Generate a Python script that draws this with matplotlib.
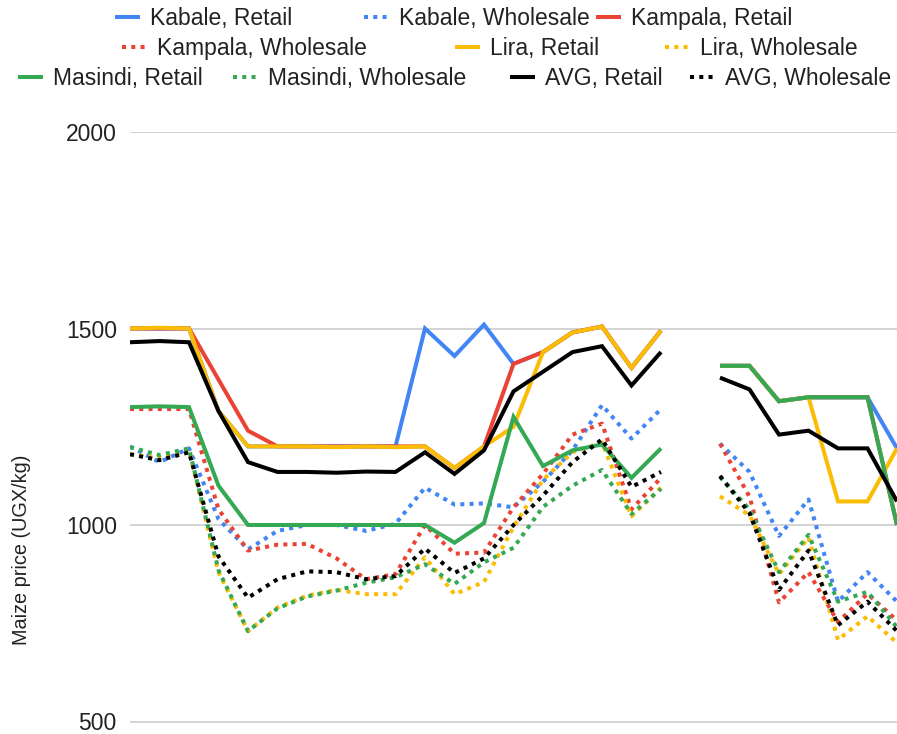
import matplotlib
matplotlib.use("Agg")
import matplotlib.pyplot as plt
import numpy as np

plt.rcParams['font.family'] = ['Liberation Sans', 'DejaVu Sans']

N = None
# 27 periods, index 19 has no data
kabale_retail = [1500, 1500, 1500, 1290, 1200, 1200, 1200, 1200, 1200, 1200, 1500, 1430, 1510, 1410, 1440, 1490, 1505, 1400, 1495, N, 1405, 1405, 1315, 1325, 1325, 1325, 1195]
kabale_wholesale = [1200, 1160, 1195, 1015, 938, 985, 1000, 1000, 985, 1003, 1095, 1052, 1055, 1045, 1110, 1190, 1305, 1220, 1295, N, 1207, 1135, 972, 1065, 805, 880, 805]
kampala_retail = [1500, 1500, 1500, 1370, 1240, 1200, 1200, 1200, 1200, 1200, 1200, 1145, 1200, 1410, 1440, 1490, 1505, 1400, 1495, N, 1405, 1405, 1315, 1325, 1325, 1325, 1000]
kampala_wholesale = [1295, 1295, 1295, 1040, 935, 950, 952, 915, 862, 875, 1000, 927, 930, 1045, 1130, 1230, 1258, 1040, 1120, N, 1207, 1072, 803, 880, 753, 825, 757]
lira_retail = [1500, 1502, 1500, 1290, 1200, 1200, 1200, 1198, 1200, 1198, 1200, 1145, 1200, 1250, 1440, 1490, 1505, 1400, 1495, N, 1405, 1405, 1315, 1325, 1060, 1060, 1195]
lira_wholesale = [1180, 1170, 1190, 880, 730, 790, 820, 835, 824, 824, 918, 824, 855, 995, 1115, 1185, 1210, 1022, 1095, N, 1073, 1025, 875, 968, 708, 768, 700]
masindi_retail = [1300, 1302, 1300, 1100, 1000, 1000, 1000, 1000, 1000, 1000, 1000, 955, 1005, 1275, 1150, 1190, 1205, 1120, 1195, N, 1405, 1405, 1315, 1325, 1325, 1325, 1000]
masindi_wholesale = [1198, 1178, 1195, 885, 730, 788, 818, 833, 853, 867, 900, 850, 905, 942, 1046, 1100, 1140, 1028, 1092, N, 1122, 1040, 880, 975, 805, 830, 740]
avg_retail = [1465, 1468, 1465, 1290, 1160, 1135, 1135, 1133, 1136, 1135, 1185, 1130, 1190, 1340, 1390, 1440, 1455, 1355, 1440, N, 1375, 1345, 1230, 1240, 1195, 1195, 1060]
avg_wholesale = [1180, 1165, 1185, 920, 815, 862, 882, 880, 862, 870, 940, 878, 915, 1000, 1075, 1160, 1218, 1097, 1135, N, 1125, 1030, 835, 935, 745, 805, 730]

series_names = ["Kabale, Retail", "Kabale, Wholesale", "Kampala, Retail", "Kampala, Wholesale",
                "Lira, Retail", "Lira, Wholesale", "Masindi, Retail", "Masindi, Wholesale",
                "AVG, Retail", "AVG, Wholesale"]
series_values = [kabale_retail, kabale_wholesale, kampala_retail, kampala_wholesale,
                 lira_retail, lira_wholesale, masindi_retail, masindi_wholesale,
                 avg_retail, avg_wholesale]
colors = ["#4285F4", "#4285F4", "#EA4335", "#EA4335", "#FBBC04", "#FBBC04",
          "#34A853", "#34A853", "#000000", "#000000"]
y_ticks = [500, 1000, 1500, 2000]
y_label = "Maize price (UGX/kg)"

W, H = 897, 734
fig = plt.figure(figsize=(W / 100, H / 100), dpi=100)

# axes: left 130px, right edge of figure, 2000 at y=132, 0 at y=918 (below the crop)
top_px, bot_px = 132, 918
ax = fig.add_axes([130 / W, (H - bot_px) / H, (W - 130) / W, (bot_px - top_px) / H])
ax.set_xlim(0, 26)
ax.set_ylim(0, 2000)

LW = 2.9
handles = []
for name, vals, c in zip(series_names, series_values, colors):
    y = np.array([np.nan if v is None else v for v in vals], dtype=float)
    x = np.arange(len(y))
    if "Wholesale" in name:
        ln, = ax.plot(x, y, color=c, lw=LW, linestyle=(0, (1, 1.3)),
                      dash_capstyle='butt', solid_joinstyle='round', label=name)
    else:
        ln, = ax.plot(x, y, color=c, lw=LW, solid_joinstyle='miter',
                      solid_capstyle='butt', label=name)
    handles.append(ln)

for s in ax.spines.values():
    s.set_visible(False)
ax.set_yticks(y_ticks)
ax.set_yticklabels([str(t) for t in y_ticks])
ax.tick_params(axis='y', length=0, pad=9.5, labelsize=16.5, labelcolor='#222222')
ax.set_xticks([])
ax.grid(axis='y', color='#cccccc', linewidth=1.2)
ax.set_axisbelow(True)

fig.text(22 / W, 1 - 550 / H, y_label, rotation=90, ha='center', va='center',
         fontsize=14.3, color='#222222')

# legend items: (series index, icon start px, row y px)
legend_layout = [(0, 115, 19), (1, 364, 19), (2, 596, 19),
                 (3, 122, 49), (4, 455, 49), (5, 665, 49),
                 (6, 18, 79), (7, 233, 79), (8, 510, 79), (9, 690, 79)]
for idx, xp, yp in legend_layout:
    fig.legend(handles=[handles[idx]], labels=[series_names[idx]], loc='center left',
               bbox_to_anchor=(xp / W, 1 - yp / H), frameon=False, borderpad=0,
               borderaxespad=0, handlelength=1.1, handletextpad=0.43,
               fontsize=16.5, labelcolor='#222222')

fig.savefig("out.png", dpi=100)
